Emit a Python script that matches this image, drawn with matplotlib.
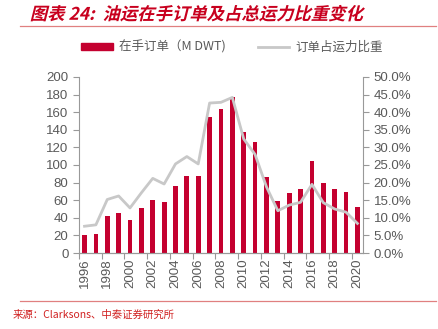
import matplotlib
matplotlib.use("Agg")
from matplotlib import pyplot as plt
from matplotlib.lines import Line2D
from matplotlib.patches import Patch
from matplotlib.patheffects import AbstractPathEffect
from matplotlib.transforms import Affine2D
from matplotlib.ticker import FixedLocator, FuncFormatter

plt.rcParams['font.family'] = ['Liberation Sans', 'Noto Sans CJK SC', 'DejaVu Sans']

years = list(range(1996, 2021))
orderbook = [20.5, 22, 42, 45.5, 37, 51, 60.5, 58, 76, 87, 87, 154, 164, 177,
             138, 126, 86, 59, 68, 73, 104, 79, 73, 69, 52]
share_pct = [7.6, 8.0, 15.2, 16.2, 12.8, 17.1, 21.2, 19.6, 25.3, 27.4, 25.3, 42.6,
             42.8, 44.2, 32.4, 28.0, 18.8, 12.0, 13.6, 14.4, 19.5, 14.3, 12.5, 11.6, 8.4]
year_labels = [str(y) for y in years if y % 2 == 0]

red = '#C4002F'
grey = '#C8C8C8'
txt = '#595959'
title_red = '#C8001E'


class Slant(AbstractPathEffect):
    """Fake italic for fonts that have no oblique face."""

    def __init__(self, deg=14):
        super().__init__()
        self.deg = deg

    def draw_path(self, renderer, gc, tpath, affine, rgbFace=None):
        renderer.draw_path(gc, tpath, Affine2D().skew_deg(self.deg, 0) + affine, rgbFace)


fig = plt.figure(figsize=(4.38, 3.29), dpi=100)
ax = fig.add_axes([0.180, 0.231, 0.649, 0.535])
ax2 = ax.twinx()

x = list(range(len(years)))
ax.bar(x, orderbook, width=0.42, color=red, zorder=2)
ax2.plot(x, share_pct, color=grey, lw=2, zorder=3)
ax.set_zorder(1)
ax2.set_zorder(2)
ax2.patch.set_visible(False)

ax.set_xlim(-0.5, len(years) - 0.5)
ax.set_ylim(0, 200)
ax2.set_ylim(0, 50)
ax.set_yticks(range(0, 201, 20))
ax2.set_yticks([i * 5 for i in range(11)])
ax2.yaxis.set_major_formatter(FuncFormatter(lambda v, p: f'{v:.1f}%'))

# tick marks on category boundaries, labels on even years
ax.xaxis.set_major_locator(FixedLocator([i - 0.5 for i in range(0, 26, 2)]))
ax.xaxis.set_major_formatter(FuncFormatter(lambda v, p: ''))
ax.xaxis.set_minor_locator(FixedLocator([i for i in range(0, 25, 2)]))
ax.set_xticklabels(year_labels, minor=True, rotation=90)
ax.tick_params(axis='x', which='minor', length=0, labelsize=9.5, labelcolor=txt, pad=4)
ax.tick_params(axis='x', which='major', length=4, color='#999999', direction='out')

ax.tick_params(axis='y', length=4, color='#999999', labelsize=9.5, labelcolor=txt)
ax2.tick_params(axis='y', length=4, color='#999999', labelsize=9.5, labelcolor=txt)

for a in (ax, ax2):
    a.spines['top'].set_visible(False)
    a.spines['left'].set_color('#999999')
    a.spines['right'].set_color('#999999')
    a.spines['bottom'].set_color('#999999')
ax.spines['right'].set_visible(False)
ax2.spines['left'].set_visible(False)

# title and source
fig.text(0.068, 0.955, '图表 24:  油运在手订单及占总运力比重变化', color=title_red,
         fontsize=12.5, fontweight='bold', va='center',
         family=['Noto Sans CJK SC', 'DejaVu Sans'], path_effects=[Slant(14)])
fig.add_artist(Line2D([0.045, 0.995], [0.922, 0.922], color='#E08080', lw=0.9))
fig.add_artist(Line2D([0.045, 0.995], [0.085, 0.085], color='#E08080', lw=0.9))
fig.text(0.028, 0.042, '来源：Clarksons、中泰证券研究所', color='#D02020', fontsize=7.5,
         va='center', family=['Noto Sans CJK SC', 'DejaVu Sans'])

handles = [Patch(color=red), Line2D([], [], color=grey, lw=2)]
fig.legend(handles, ['在手订单（M DWT)', '订单占运力比重'], loc='center',
           bbox_to_anchor=(0.53, 0.857), ncol=2, frameon=False,
           handlelength=2.5, handleheight=0.5, columnspacing=2.6, handletextpad=0.5,
           labelcolor=txt, prop={'family': ['Noto Sans CJK SC', 'DejaVu Sans'], 'size': 9})

fig.savefig('out.png', dpi=100)
